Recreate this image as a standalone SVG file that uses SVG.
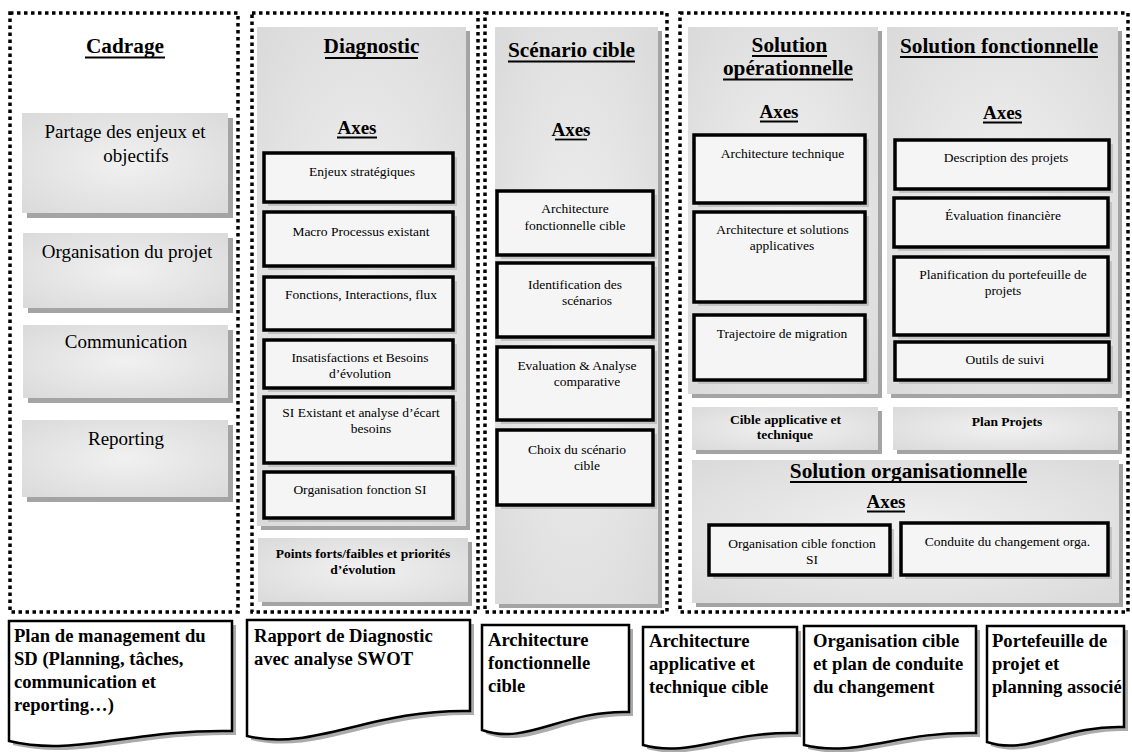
<svg xmlns="http://www.w3.org/2000/svg" width="1132" height="752" viewBox="0 0 1132 752">
<defs>
<radialGradient id="pg" cx="50%" cy="50%" r="70%">
<stop offset="0%" stop-color="#f1f1f1"/>
<stop offset="100%" stop-color="#dadada"/>
</radialGradient>
</defs>
<style>
.frame{fill:none;stroke:#000;stroke-width:3.5;stroke-dasharray:3.5 3.5}
.panel{fill:url(#pg)}
.psh{fill:#a4a4a4}
.ax{fill:#f5f5f5;stroke:#000;stroke-width:3.5}
.axsh{fill:#c2c2c2}
.doc{fill:#fff;stroke:#000;stroke-width:2.5;stroke-linejoin:miter}
.docsh{fill:#ababab}
.ul{stroke:#000;stroke-width:1.8}
text{font-family:"Liberation Serif","Times New Roman",serif;fill:#000}
.title{font-size:21.3px;font-weight:bold;text-anchor:middle}
.axes{font-size:19px;font-weight:bold;text-anchor:middle}
.lb{font-size:13.5px;text-anchor:middle}
.lbb{font-size:13.5px;font-weight:bold;text-anchor:middle}
.cad{font-size:19px;text-anchor:middle}
.dt{font-size:18.6px;font-weight:bold}
</style>
<rect width="1132" height="752" fill="#fff"/>

<!-- Column frames -->
<g id="frames">
<rect class="frame" x="10" y="13" width="228" height="599"/>
<rect class="frame" x="252" y="13" width="226" height="599"/>
<rect class="frame" x="485" y="13" width="182" height="599"/>
<rect class="frame" x="680" y="13" width="448" height="599"/>
</g>

<!-- Cadrage -->
<g id="cadrage">
<text class="title" x="125" y="53">Cadrage</text>
<line class="ul" x1="85" y1="57.5" x2="165" y2="57.5"/>
</g>
<g id="cad-partage">
<rect class="psh" x="27" y="118" width="206" height="100"/>
<rect class="panel" x="22" y="113" width="206" height="100"/>
<text class="cad" x="125" y="138">Partage des enjeux et</text>
<text class="cad" x="136" y="162">objectifs</text>
</g>
<g id="cad-organisation">
<rect class="psh" x="28" y="238" width="205" height="75"/>
<rect class="panel" x="23" y="233" width="205" height="75"/>
<text class="cad" x="127" y="258">Organisation du projet</text>
</g>
<g id="cad-communication">
<rect class="psh" x="28" y="330" width="205" height="73"/>
<rect class="panel" x="23" y="325" width="205" height="73"/>
<text class="cad" x="126" y="348">Communication</text>
</g>
<g id="cad-reporting">
<rect class="psh" x="27" y="425" width="206" height="77"/>
<rect class="panel" x="22" y="420" width="206" height="77"/>
<text class="cad" x="126" y="445">Reporting</text>
</g>

<!-- Diagnostic -->
<g id="diagnostic">
<rect class="psh" x="261" y="31" width="209" height="499"/>
<rect class="panel" x="257" y="27" width="209" height="499"/>
<text class="title" x="371.5" y="53">Diagnostic</text>
<line class="ul" x1="325" y1="58" x2="418" y2="58"/>
<text class="axes" x="357" y="134">Axes</text>
<line class="ul" x1="337" y1="137.5" x2="377" y2="137.5"/>
</g>
<g id="diag-enjeux">
<rect class="axsh" x="268" y="157" width="189" height="49"/>
<rect class="ax" x="264" y="153" width="189" height="49"/>
<text class="lb" x="362" y="176">Enjeux stratégiques</text>
</g>
<g id="diag-macro">
<rect class="axsh" x="268" y="216" width="189" height="54"/>
<rect class="ax" x="264" y="212" width="189" height="54"/>
<text class="lb" x="361" y="236">Macro Processus existant</text>
</g>
<g id="diag-fonctions">
<rect class="axsh" x="268" y="281" width="189" height="53"/>
<rect class="ax" x="264" y="277" width="189" height="53"/>
<text class="lb" x="361" y="299">Fonctions, Interactions, flux</text>
</g>
<g id="diag-insatisfactions">
<rect class="axsh" x="268" y="344" width="189" height="48"/>
<rect class="ax" x="264" y="340" width="189" height="48"/>
<text class="lb" x="360" y="362">Insatisfactions et Besoins</text>
<text class="lb" x="360" y="378">d’évolution</text>
</g>
<g id="diag-si-existant">
<rect class="axsh" x="268" y="401" width="189" height="66"/>
<rect class="ax" x="264" y="397" width="189" height="66"/>
<text class="lb" x="361" y="417">SI Existant et analyse d’écart</text>
<text class="lb" x="371" y="433">besoins</text>
</g>
<g id="diag-organisation">
<rect class="axsh" x="268" y="476" width="189" height="46"/>
<rect class="ax" x="264" y="472" width="189" height="46"/>
<text class="lb" x="360" y="494">Organisation fonction SI</text>
</g>
<g id="diag-points">
<rect class="psh" x="262" y="542" width="210" height="64"/>
<rect class="panel" x="258" y="538" width="210" height="64"/>
<text class="lbb" x="363" y="558">Points forts/faibles et priorités</text>
<text class="lbb" x="363" y="574">d’évolution</text>
</g>

<!-- Scénario cible -->
<g id="scenario">
<rect class="psh" x="499" y="31" width="163" height="577"/>
<rect class="panel" x="495" y="27" width="163" height="577"/>
<text class="title" x="571.5" y="57">Scénario cible</text>
<line class="ul" x1="508" y1="61.5" x2="635" y2="61.5"/>
<text class="axes" x="571" y="136">Axes</text>
<line class="ul" x1="555" y1="139.5" x2="587" y2="139.5"/>
</g>
<g id="scen-architecture">
<rect class="axsh" x="501" y="195" width="156" height="64"/>
<rect class="ax" x="497" y="191" width="156" height="64"/>
<text class="lb" x="575" y="213">Architecture</text>
<text class="lb" x="575" y="230">fonctionnelle cible</text>
</g>
<g id="scen-identification">
<rect class="axsh" x="501" y="267" width="156" height="74"/>
<rect class="ax" x="497" y="263" width="156" height="74"/>
<text class="lb" x="575" y="289">Identification des</text>
<text class="lb" x="587" y="305">scénarios</text>
</g>
<g id="scen-evaluation">
<rect class="axsh" x="501" y="351" width="156" height="73"/>
<rect class="ax" x="497" y="347" width="156" height="73"/>
<text class="lb" x="577" y="370">Evaluation &amp; Analyse</text>
<text class="lb" x="587" y="386">comparative</text>
</g>
<g id="scen-choix">
<rect class="axsh" x="501" y="434" width="156" height="75"/>
<rect class="ax" x="497" y="430" width="156" height="75"/>
<text class="lb" x="577" y="454">Choix du scénario</text>
<text class="lb" x="587" y="470">cible</text>
</g>

<!-- Solution opérationnelle -->
<g id="sol-operationnelle">
<rect class="psh" x="692" y="31" width="190" height="367"/>
<rect class="panel" x="688" y="27" width="190" height="367"/>
<text class="title" x="789.5" y="52">Solution</text>
<line class="ul" x1="752" y1="56" x2="827" y2="56"/>
<text class="title" x="788" y="75">opérationnelle</text>
<line class="ul" x1="723" y1="79.5" x2="853" y2="79.5"/>
<text class="axes" x="779" y="118">Axes</text>
<line class="ul" x1="760" y1="121.5" x2="798" y2="121.5"/>
</g>
<g id="op-architecture-technique">
<rect class="axsh" x="698" y="139" width="171" height="68"/>
<rect class="ax" x="694" y="135" width="171" height="68"/>
<text class="lb" x="782.5" y="158">Architecture technique</text>
</g>
<g id="op-architecture-solutions">
<rect class="axsh" x="698" y="216" width="171" height="90"/>
<rect class="ax" x="694" y="212" width="171" height="90"/>
<text class="lb" x="782.5" y="234">Architecture et solutions</text>
<text class="lb" x="782" y="250">applicatives</text>
</g>
<g id="op-trajectoire">
<rect class="axsh" x="698" y="319" width="171" height="65"/>
<rect class="ax" x="694" y="315" width="171" height="65"/>
<text class="lb" x="782" y="338">Trajectoire de migration</text>
</g>
<g id="op-cible">
<rect class="psh" x="696" y="411" width="186" height="43"/>
<rect class="panel" x="692" y="407" width="186" height="43"/>
<text class="lbb" x="785.5" y="424">Cible applicative et</text>
<text class="lbb" x="785" y="439">technique</text>
</g>

<!-- Solution fonctionnelle -->
<g id="sol-fonctionnelle">
<rect class="psh" x="891" y="31" width="231" height="367"/>
<rect class="panel" x="887" y="27" width="231" height="367"/>
<text class="title" x="999" y="53">Solution fonctionnelle</text>
<line class="ul" x1="900" y1="57" x2="1098" y2="57"/>
<text class="axes" x="1002.5" y="119">Axes</text>
<line class="ul" x1="983" y1="122.5" x2="1022" y2="122.5"/>
</g>
<g id="fonc-description">
<rect class="axsh" x="899" y="144" width="214" height="49"/>
<rect class="ax" x="895" y="140" width="214" height="49"/>
<text class="lb" x="1006" y="162">Description des projets</text>
</g>
<g id="fonc-evaluation">
<rect class="axsh" x="898" y="202" width="214" height="49"/>
<rect class="ax" x="894" y="198" width="214" height="49"/>
<text class="lb" x="1003" y="220">Évaluation financière</text>
</g>
<g id="fonc-planification">
<rect class="axsh" x="898" y="261" width="214" height="78"/>
<rect class="ax" x="894" y="257" width="214" height="78"/>
<text class="lb" x="1003" y="279">Planification du portefeuille de</text>
<text class="lb" x="1003" y="295">projets</text>
</g>
<g id="fonc-outils">
<rect class="axsh" x="899" y="346" width="214" height="38"/>
<rect class="ax" x="895" y="342" width="214" height="38"/>
<text class="lb" x="1005" y="364">Outils de suivi</text>
</g>
<g id="fonc-plan-projets">
<rect class="psh" x="897" y="411" width="225" height="43"/>
<rect class="panel" x="893" y="407" width="225" height="43"/>
<text class="lbb" x="1007" y="426">Plan Projets</text>
</g>

<!-- Solution organisationnelle -->
<g id="sol-organisationnelle">
<rect class="psh" x="696" y="464" width="427" height="143"/>
<rect class="panel" x="692" y="460" width="427" height="143"/>
<text class="title" x="908.5" y="478">Solution organisationnelle</text>
<line class="ul" x1="790" y1="482" x2="1027" y2="482"/>
<text class="axes" x="886" y="508">Axes</text>
<line class="ul" x1="867" y1="511.5" x2="905" y2="511.5"/>
</g>
<g id="org-organisation">
<rect class="axsh" x="713" y="529" width="181" height="50"/>
<rect class="ax" x="709" y="525" width="181" height="50"/>
<text class="lb" x="802" y="548">Organisation cible fonction</text>
<text class="lb" x="812" y="564">SI</text>
</g>
<g id="org-conduite">
<rect class="axsh" x="905" y="527" width="207" height="52"/>
<rect class="ax" x="901" y="523" width="207" height="52"/>
<text class="lb" x="1007.5" y="546">Conduite du changement orga.</text>
</g>

<!-- Deliverable documents -->
<g id="doc-plan">
<path class="docsh" transform="translate(4,4)" d="M9,621 H232 V731 C131.6,729 75.9,757 9,741 Z"/>
<path class="doc" d="M9,621 H232 V731 C131.6,729 75.9,757 9,741 Z"/>
<text class="dt" x="14" y="642">Plan de management du</text>
<text class="dt" x="14" y="665">SD (Planning, tâches,</text>
<text class="dt" x="14" y="688">communication et</text>
<text class="dt" x="14" y="711">reporting…)</text>
</g>
<g id="doc-rapport">
<path class="docsh" transform="translate(4,4)" d="M247,620 H470 V711 C369.6,709 313.9,752 247,736 Z"/>
<path class="doc" d="M247,620 H470 V711 C369.6,709 313.9,752 247,736 Z"/>
<text class="dt" x="254" y="642">Rapport de Diagnostic</text>
<text class="dt" x="254" y="665">avec analyse SWOT</text>
</g>
<g id="doc-archi-fonc">
<path class="docsh" transform="translate(4,4)" d="M482,625 H629 V712 C562.9,710 526.1,746 482,730 Z"/>
<path class="doc" d="M482,625 H629 V712 C562.9,710 526.1,746 482,730 Z"/>
<text class="dt" x="488" y="646">Architecture</text>
<text class="dt" x="488" y="669">fonctionnelle</text>
<text class="dt" x="488" y="692">cible</text>
</g>
<g id="doc-archi-app">
<path class="docsh" transform="translate(4,4)" d="M643,627 H797 V733 C727.7,731 689.2,758 643,745 Z"/>
<path class="doc" d="M643,627 H797 V733 C727.7,731 689.2,758 643,745 Z"/>
<text class="dt" x="649" y="647">Architecture</text>
<text class="dt" x="649" y="670">applicative et</text>
<text class="dt" x="649" y="693">technique cible</text>
</g>
<g id="doc-organisation">
<path class="docsh" transform="translate(4,4)" d="M804,626 H976 V733 C898.6,731 855.6,758 804,745 Z"/>
<path class="doc" d="M804,626 H976 V733 C898.6,731 855.6,758 804,745 Z"/>
<text class="dt" x="813" y="647">Organisation cible</text>
<text class="dt" x="813" y="670">et plan de conduite</text>
<text class="dt" x="813" y="693">du changement</text>
</g>
<g id="doc-portefeuille">
<path class="docsh" transform="translate(4,4)" d="M987,626 H1124 V727 C1062.4,725 1028.1,756 987,742 Z"/>
<path class="doc" d="M987,626 H1124 V727 C1062.4,725 1028.1,756 987,742 Z"/>
<text class="dt" x="992" y="647">Portefeuille de</text>
<text class="dt" x="992" y="670">projet et</text>
<text class="dt" x="992" y="693">planning associé</text>
</g>
<g id="connectors"/>
</svg>
